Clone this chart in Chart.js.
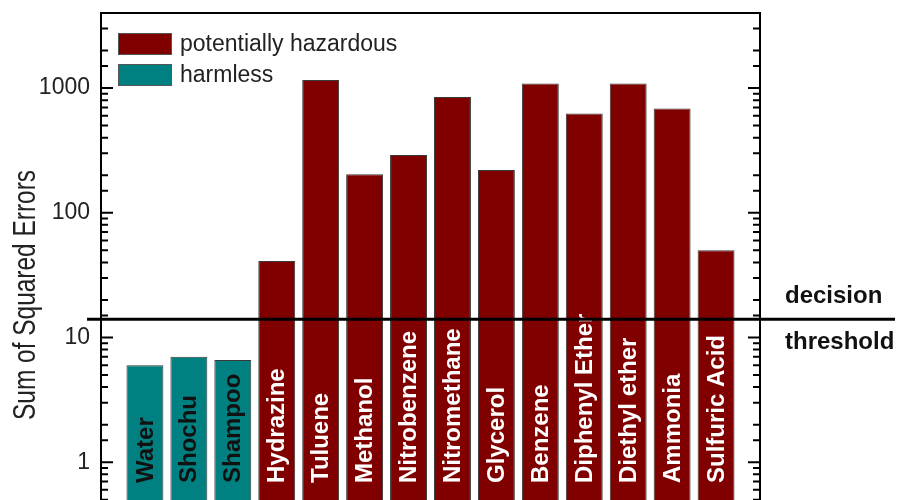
<!DOCTYPE html>
<html>
<head>
<meta charset="utf-8">
<script src="https://cdn.jsdelivr.net/npm/chart.js@4.4.0/dist/chart.umd.min.js"></script>
<style>
  html, body { margin: 0; padding: 0; background: #fff; }
  #wrap { width: 914px; height: 500px; overflow: hidden; }
</style>
</head>
<body>
<div id="wrap"><canvas id="grafico" width="914" height="577"></canvas></div>
<script>
const substances = ["Water", "Shochu", "Shampoo", "Hydrazine", "Tuluene", "Methanol", "Nitrobenzene",
  "Nitromethane", "Glycerol", "Benzene", "Diphenyl Ether", "Diethyl ether", "Ammonia", "Sulfuric Acid"];
const errors = [6.0, 7.0, 6.6, 41, 1160, 204, 290, 850, 220, 1090, 625, 1090, 685, 50];
const groups = ["harmless", "harmless", "harmless", "hazardous", "hazardous", "hazardous", "hazardous",
  "hazardous", "hazardous", "hazardous", "hazardous", "hazardous", "hazardous", "hazardous"];
const yTickLabels = [1, 10, 100, 1000];
const yTitle = "Sum of Squared Errors";
const threshold = 14;
const thresholdText = ["decision", "threshold"];

const hazardousData = [];
const harmlessData = [];
substances.forEach((name, i) => {
  const point = { x: i, y: errors[i] };
  if (groups[i] === "harmless") harmlessData.push(point);
  else hazardousData.push(point);
});

const sans = "'Liberation Sans', Arial, sans-serif";

const decoracao = {
  id: "decoracao",
  afterDatasetsDraw(chart) {
    const { ctx, chartArea: a, scales: { y } } = chart;
    const yLimiar = y.getPixelForValue(threshold);
    ctx.save();

    // nomes dentro das barras
    ctx.save();
    ctx.beginPath();
    ctx.rect(a.left, yLimiar - 6, a.right - a.left, 600);
    ctx.clip();
    ctx.font = "bold 24px " + sans;
    ctx.textAlign = "left";
    ctx.textBaseline = "middle";
    chart.data.datasets.forEach((ds, d) => {
      chart.getDatasetMeta(d).data.forEach((bar, j) => {
        const idx = ds.data[j].x;
        ctx.save();
        ctx.translate(bar.x, 483);
        ctx.rotate(-Math.PI / 2);
        ctx.fillStyle = groups[idx] === "harmless" ? "#111" : "#fff";
        ctx.fillText(substances[idx], 0, 1);
        ctx.restore();
      });
    });
    ctx.restore();

    // linha de decisão
    ctx.strokeStyle = "#000";
    ctx.lineWidth = 3;
    ctx.beginPath();
    ctx.moveTo(a.left - 14, yLimiar);
    ctx.lineTo(895, yLimiar);
    ctx.stroke();
    ctx.fillStyle = "#111";
    ctx.font = "bold 24px " + sans;
    ctx.textBaseline = "alphabetic";
    ctx.fillText(thresholdText[0], 785, yLimiar - 16);
    ctx.fillText(thresholdText[1], 785, yLimiar + 30);

    // moldura
    ctx.lineWidth = 2;
    ctx.beginPath();
    ctx.moveTo(a.left, a.bottom);
    ctx.lineTo(a.left, a.top);
    ctx.lineTo(a.right, a.top);
    ctx.lineTo(a.right, a.bottom);
    ctx.stroke();

    // marcas para dentro, dos dois lados
    y.ticks.forEach(t => {
      const py = y.getPixelForValue(t.value);
      if (py <= a.top + 1) return;
      const lg = Math.log10(t.value);
      const len = Math.abs(lg - Math.round(lg)) < 1e-6 ? 12 : 7;
      ctx.beginPath();
      ctx.moveTo(a.left, py);
      ctx.lineTo(a.left + len, py);
      ctx.moveTo(a.right, py);
      ctx.lineTo(a.right - len, py);
      ctx.stroke();
    });

    // legenda
    ctx.font = "23px " + sans;
    ctx.textBaseline = "middle";
    chart.data.datasets.forEach((ds, d) => {
      const top = 33 + d * 31;
      ctx.fillStyle = ds.backgroundColor;
      ctx.fillRect(118, top, 54, 22);
      ctx.strokeStyle = "#555";
      ctx.lineWidth = 1;
      ctx.strokeRect(118.5, top + 0.5, 53, 21);
      ctx.fillStyle = "#222";
      ctx.fillText(ds.label, 180, top + 12);
    });

    // título do eixo, estreito como no original
    ctx.font = "31px " + sans;
    const w = ctx.measureText(yTitle).width;
    ctx.translate(26, (a.top + a.bottom) / 2);
    ctx.rotate(-Math.PI / 2);
    ctx.scale(250 / w, 1);
    ctx.textAlign = "center";
    ctx.fillStyle = "#222";
    ctx.fillText(yTitle, 0, 0);

    ctx.restore();
  }
};

const ctx = document.getElementById("grafico").getContext("2d");
new Chart(ctx, {
  type: "bar",
  data: {
    datasets: [
      {
        label: "potentially hazardous",
        data: hazardousData,
        backgroundColor: "#800000",
        borderColor: "#3a3a3a",
        borderWidth: 1,
        grouped: false,
        barPercentage: 0.84,
        categoryPercentage: 1,
      },
      {
        label: "harmless",
        data: harmlessData,
        backgroundColor: "#008080",
        borderColor: "#3a3a3a",
        borderWidth: 1,
        grouped: false,
        barPercentage: 0.84,
        categoryPercentage: 1,
      },
    ],
  },
  options: {
    responsive: false,
    animation: false,
    layout: { padding: { top: 13, right: 154, left: 0, bottom: 0 } },
    plugins: { legend: { display: false }, tooltip: { enabled: false } },
    scales: {
      x: { type: "linear", min: -1, max: 14, offset: false, display: false },
      y: {
        type: "logarithmic",
        min: 0.12,
        max: 4000,
        afterFit: s => {
          s.width = 101;
          s.paddingTop = 0;
          s.paddingBottom = 0;
        },
        grid: { display: false, drawTicks: false },
        border: { display: false },
        ticks: {
          autoSkip: false,
          padding: 11,
          color: "#222",
          font: { family: sans, size: 23 },
          callback: v => yTickLabels.some(t => Math.abs(t - v) < 1e-9) ? String(v) : "",
        },
      },
    },
  },
  plugins: [decoracao],
});
</script>
</body>
</html>
